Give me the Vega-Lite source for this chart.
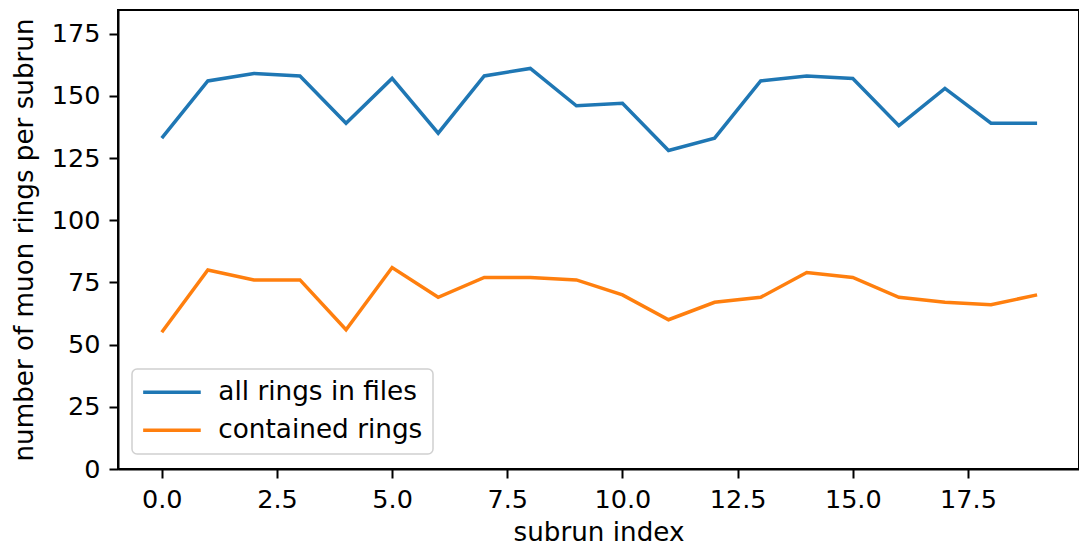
{
  "$schema": "https://vega.github.io/schema/vega-lite/v6.json",
  "autosize": "none",
  "width": 961,
  "height": 459,
  "padding": {"left": 118, "top": 10, "right": 0, "bottom": 80},
  "background": "white",
  "config": {
    "font": "DejaVu Sans",
    "view": {"stroke": "black", "strokeWidth": 2},
    "axis": {
      "grid": false,
      "domainColor": "black",
      "domainWidth": 2,
      "tickColor": "black",
      "tickWidth": 2,
      "tickSize": 9,
      "labelFont": "DejaVu Sans",
      "labelFontSize": 25.5,
      "labelColor": "black",
      "titleFont": "DejaVu Sans",
      "titleFontSize": 26.2,
      "titleFontWeight": "normal",
      "titleColor": "black"
    }
  },
  "data": {
    "values": [
      {"subrun": 0, "series": "all rings in files", "rings": 133},
      {"subrun": 1, "series": "all rings in files", "rings": 156},
      {"subrun": 2, "series": "all rings in files", "rings": 159},
      {"subrun": 3, "series": "all rings in files", "rings": 158},
      {"subrun": 4, "series": "all rings in files", "rings": 139},
      {"subrun": 5, "series": "all rings in files", "rings": 157},
      {"subrun": 6, "series": "all rings in files", "rings": 135},
      {"subrun": 7, "series": "all rings in files", "rings": 158},
      {"subrun": 8, "series": "all rings in files", "rings": 161},
      {"subrun": 9, "series": "all rings in files", "rings": 146},
      {"subrun": 10, "series": "all rings in files", "rings": 147},
      {"subrun": 11, "series": "all rings in files", "rings": 128},
      {"subrun": 12, "series": "all rings in files", "rings": 133},
      {"subrun": 13, "series": "all rings in files", "rings": 156},
      {"subrun": 14, "series": "all rings in files", "rings": 158},
      {"subrun": 15, "series": "all rings in files", "rings": 157},
      {"subrun": 16, "series": "all rings in files", "rings": 138},
      {"subrun": 17, "series": "all rings in files", "rings": 153},
      {"subrun": 18, "series": "all rings in files", "rings": 139},
      {"subrun": 19, "series": "all rings in files", "rings": 139},
      {"subrun": 0, "series": "contained rings", "rings": 55},
      {"subrun": 1, "series": "contained rings", "rings": 80},
      {"subrun": 2, "series": "contained rings", "rings": 76},
      {"subrun": 3, "series": "contained rings", "rings": 76},
      {"subrun": 4, "series": "contained rings", "rings": 56},
      {"subrun": 5, "series": "contained rings", "rings": 81},
      {"subrun": 6, "series": "contained rings", "rings": 69},
      {"subrun": 7, "series": "contained rings", "rings": 77},
      {"subrun": 8, "series": "contained rings", "rings": 77},
      {"subrun": 9, "series": "contained rings", "rings": 76},
      {"subrun": 10, "series": "contained rings", "rings": 70},
      {"subrun": 11, "series": "contained rings", "rings": 60},
      {"subrun": 12, "series": "contained rings", "rings": 67},
      {"subrun": 13, "series": "contained rings", "rings": 69},
      {"subrun": 14, "series": "contained rings", "rings": 79},
      {"subrun": 15, "series": "contained rings", "rings": 77},
      {"subrun": 16, "series": "contained rings", "rings": 69},
      {"subrun": 17, "series": "contained rings", "rings": 67},
      {"subrun": 18, "series": "contained rings", "rings": 66},
      {"subrun": 19, "series": "contained rings", "rings": 70}
    ]
  },
  "mark": {"type": "line", "strokeWidth": 3.5, "clip": true},
  "encoding": {
    "x": {
      "field": "subrun",
      "type": "quantitative",
      "title": "subrun index",
      "scale": {"domain": [-0.95, 19.91], "nice": false, "zero": false},
      "axis": {
        "values": [0, 2.5, 5, 7.5, 10, 12.5, 15, 17.5],
        "format": ".1f",
        "labelPadding": 9,
        "titlePadding": 7,
        "labelFlush": false
      }
    },
    "y": {
      "field": "rings",
      "type": "quantitative",
      "title": "number of muon rings per subrun",
      "scale": {"domain": [0, 184.5], "nice": false},
      "axis": {
        "values": [0, 25, 50, 75, 100, 125, 150, 175],
        "labelPadding": 9,
        "titlePadding": 13,
        "labelFlush": false
      }
    },
    "color": {
      "field": "series",
      "type": "nominal",
      "scale": {
        "domain": ["all rings in files", "contained rings"],
        "range": ["#1f77b4", "#ff7f0e"]
      },
      "legend": {
        "title": null,
        "orient": "none",
        "legendX": 14,
        "legendY": 359,
        "symbolType": "M-2.4,0H9.12",
        "symbolStrokeWidth": 3.5,
        "symbolSize": 100,
        "labelFontSize": 26.3,
        "labelFont": "DejaVu Sans",
        "labelColor": "black",
        "labelLimit": 500,
        "labelOffset": 50,
        "rowPadding": 11,
        "padding": 10,
        "strokeColor": "#d0d0d0",
        "fillColor": "white",
        "cornerRadius": 5,
        "encode": {"legend": {"update": {"strokeWidth": {"value": 1.5}}}}
      }
    }
  }
}
